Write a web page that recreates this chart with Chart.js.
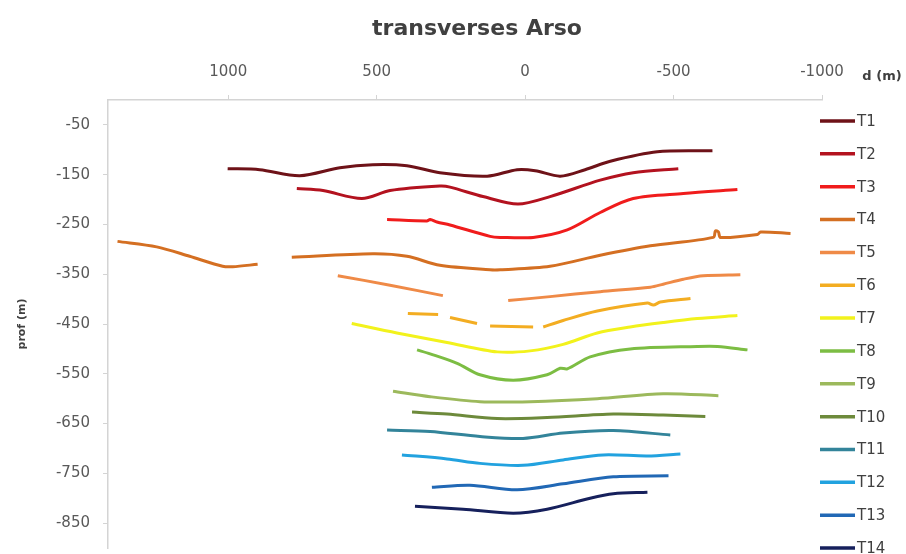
<!DOCTYPE html>
<html>
<head>
<meta charset="utf-8">
<script src="https://cdn.jsdelivr.net/npm/chart.js@4.4.1/dist/chart.umd.min.js"></script>
<style>
  html, body { margin: 0; padding: 0; background: #fff; overflow: hidden; }
  #wrap { width: 906px; height: 570px; }
</style>
</head>
<body>
<div id="wrap"><canvas id="chart" width="906" height="570"></canvas></div>
<script>
// axis ticks (x axis is reversed: 1000 on the left)
const xTicks = [1000, 500, 0, -500, -1000];
const yTicks = [-50, -150, -250, -350, -450, -550, -650, -750, -850];

const names = ['T1','T2','T3','T4','T5','T6','T7','T8','T9','T10','T11','T12','T13','T14'];
const colors = ['#6e1218','#b3121f','#f01c1c','#d46f22','#ef8a47','#f3ad22','#f2f21c',
                '#7cbd43','#9cb95c','#6d8a3b','#33849a','#22a2df','#2168b5','#16205c'];

// [d (m), prof (m)], null = gap in the line
const T1  = [[1002,-138],[894,-140],[759,-152],[624,-136],[513,-130],[398,-132],[287,-146],[128,-153],[27,-140],[-34,-142],[-118,-153],[-202,-140],[-287,-123],[-445,-104],[-631,-102]];
const T2  = [[769,-178],[681,-182],[550,-198],[455,-182],[287,-173],[253,-175],[142,-194],[24,-209],[-84,-194],[-253,-161],[-364,-146],[-516,-138]];
const T3  = [[465,-240],[331,-243],[320,-240],[297,-245],[253,-251],[118,-274],[84,-276],[-27,-276],[-142,-261],[-253,-226],[-364,-198],[-533,-188],[-715,-180]];
const T4  = [[1373,-284],[1241,-295],[1130,-314],[1019,-334],[985,-335],[901,-330],null,[786,-316],[513,-309],[398,-314],[287,-332],[118,-341],[84,-341],[-84,-334],[-253,-312],[-422,-293],[-634,-276],[-641,-263],[-651,-265],[-658,-276],[-783,-270],[-793,-265],[-894,-268]];
const T5  = [[631,-353],[455,-372],[277,-393],null,[57,-403],[-84,-395],[-253,-385],[-422,-376],[-465,-370],[-533,-360],[-600,-353],[-725,-351]];
const T6  = [[395,-429],[293,-431],null,[253,-437],[162,-449],null,[118,-454],[-27,-456],null,[-61,-456],[-128,-443],[-243,-424],[-412,-408],[-432,-412],[-455,-406],[-557,-399]];
const T7  = [[584,-449],[432,-468],[263,-487],[94,-506],[-17,-504],[-128,-491],[-243,-468],[-354,-456],[-465,-447],[-580,-439],[-715,-433]];
const T8  = [[364,-502],[320,-510],[229,-529],[152,-552],[40,-563],[-74,-552],[-118,-539],[-142,-540],[-219,-516],[-354,-500],[-580,-495],[-648,-495],[-749,-502]];
const T9  = [[445,-585],[320,-596],[152,-606],[-17,-606],[-243,-600],[-465,-590],[-651,-594]];
const T10 = [[381,-627],[263,-631],[94,-640],[-74,-638],[-297,-631],[-465,-633],[-607,-636]];
const T11 = [[465,-663],[320,-666],[152,-676],[7,-680],[-128,-669],[-297,-664],[-489,-673]];
const T12 = [[415,-713],[263,-721],[152,-730],[7,-734],[-128,-723],[-263,-713],[-412,-715],[-523,-711]];
const T13 = [[314,-778],[186,-774],[27,-783],[-128,-771],[-297,-757],[-483,-755]];
const T14 = [[371,-816],[209,-822],[40,-830],[-74,-822],[-219,-800],[-297,-791],[-412,-788]];

const series = [T1,T2,T3,T4,T5,T6,T7,T8,T9,T10,T11,T12,T13,T14];

// pairs -> {x,y}; a null entry becomes a y:null point so the line breaks there
function toPoints(arr){
  let lastX = 0;
  return arr.map(p => {
    if(!p) return {x: lastX, y: null};
    lastX = p[0];
    return {x: p[0], y: p[1]};
  });
}

const FONT = '"DejaVu Sans", sans-serif';
const AXIS_GREY = '#d4d4d4';
const TEXT_DARK = '#404040';

// title, "d (m)" and the right-hand legend, drawn on the canvas
const extras = {
  id: 'extras',
  afterDraw(chart){
    const {ctx, chartArea} = chart;
    ctx.save();
    ctx.fillStyle = TEXT_DARK;
    ctx.textAlign = 'center';
    ctx.textBaseline = 'middle';
    ctx.font = 'bold 22px ' + FONT;
    ctx.fillText('transverses Arso', (chartArea.left + chartArea.right) / 2 + 12, 29);

    ctx.font = 'bold 13px ' + FONT;
    ctx.fillText('d (m)', chartArea.right + 60, 77);

    ctx.textAlign = 'left';
    ctx.font = '15px ' + FONT;
    const x0 = chartArea.right - 2;
    chart.data.datasets.forEach((ds, i) => {
      const y = chartArea.top + 21 + i * 32.85;
      ctx.strokeStyle = ds.borderColor;
      ctx.lineWidth = 3.5;
      ctx.beginPath();
      ctx.moveTo(x0, y);
      ctx.lineTo(x0 + 35, y);
      ctx.stroke();
      ctx.fillStyle = TEXT_DARK;
      ctx.fillText(ds.label, x0 + 37, y + 1);
    });
    ctx.restore();
  }
};

const ctx = document.getElementById('chart').getContext('2d');
const chart = new Chart(ctx, {
  type: 'line',
  data: {
    datasets: series.map((s, i) => ({
      label: names[i],
      data: toPoints(s),
      borderColor: colors[i],
      backgroundColor: colors[i],
      borderWidth: 3,
      pointRadius: 0,
      tension: 0.3,
      spanGaps: false,
      fill: false
    }))
  },
  options: {
    responsive: false,
    animation: false,
    layout: { autoPadding: false, padding: { top: 50, right: 84, left: 0, bottom: 0 } },
    plugins: {
      legend: { display: false },
      title: { display: false },
      tooltip: { enabled: false }
    },
    scales: {
      x: {
        type: 'linear',
        position: 'top',
        reverse: true,
        min: -1000,
        max: 1405,
        afterBuildTicks: s => { s.ticks = xTicks.map(v => ({ value: v })); },
        afterFit: s => { s.height = 50; },
        border: { color: AXIS_GREY, width: 1.5 },
        grid: { drawOnChartArea: false, drawTicks: true, tickLength: 5, color: AXIS_GREY },
        ticks: { color: '#595959', font: { family: FONT, size: 15 }, padding: 14, maxRotation: 0,
                 callback: v => String(v) }
      },
      y: {
        type: 'linear',
        min: -900,
        max: 0,
        afterBuildTicks: s => { s.ticks = yTicks.map(v => ({ value: v })); },
        afterFit: s => { s.width = 108; },
        border: { color: AXIS_GREY, width: 1.5 },
        grid: { drawOnChartArea: false, drawTicks: true, tickLength: 5, color: AXIS_GREY },
        ticks: { color: '#595959', font: { family: FONT, size: 15 }, padding: 13,
                 callback: v => String(v) },
        title: {
          display: true,
          text: 'prof (m)',
          color: TEXT_DARK,
          font: { family: FONT, size: 11, weight: 'bold' },
          padding: { top: 16, bottom: 0 }
        }
      }
    }
  },
  plugins: [extras]
});
</script>
</body>
</html>
